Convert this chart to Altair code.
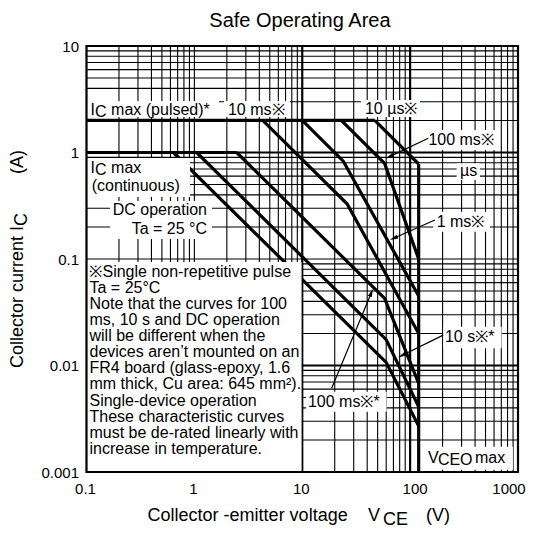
import math
import altair as alt
import pandas as pd

FONT = "Liberation Sans"

# ---------------- data (V in volts, I in amperes) ----------------
pulsed_V = [0.1, 47];        pulsed_I = [2, 2]
cont_V = [0.1, 2.47];        cont_I = [1, 1]
us10_V = [47, 120];          us10_I = [2, 0.78]
us100_V = [23, 58, 120];     us100_I = [2, 0.79, 0.1]
ms1_V = [10, 24, 120];       ms1_I = [2, 0.83, 0.045]
ms10_V = [4.3, 26, 120];     ms10_I = [2, 0.33, 0.02]
ms100s_V = [2.47, 58, 120];  ms100s_I = [1, 0.0426, 0.0068]
s10_V = [1.05, 60, 120];     s10_I = [1, 0.0175, 0.0041]
dc_V = [0.64, 60, 120];      dc_I = [1, 0.0107, 0.0027]
vceo_V = [120, 120];         vceo_I = [0.78, 0.001]

x_ticks = [0.1, 1, 10, 100, 1000]
x_tick_labels = ["0.1", "1", "10", "100", "1000"]
y_ticks = [0.001, 0.01, 0.1, 1, 10]
x_major = [10, 100]
y_major = [1, 0.01]

# annotation boxes (white): V0, V1, I0, I1
box_V0 = [0.1, 1.88, 35.0, 137.1, 269.8, 163.7, 202.7, 10.82, 137.1, 0.1, 0.165, 0.1]
box_V1 = [1.69, 7.69, 123.3, 651.6, 443.6, 549.5, 704.7, 60.5, 897, 0.91, 1.456, 9.85]
box_I0 = [2.154, 2.154, 2.154, 1.056, 0.552, 0.1805, 0.0145, 0.003682, 0.00105, 0.382, 0.1541, 0.001]
box_I1 = [3.045, 3.045, 3.11, 1.627, 0.792, 0.278, 0.02314, 0.00568, 0.001728, 0.888, 0.3504, 0.0937]

# arrows: tail (V, I) -> tip (V, I)
arr_V0 = [147.2, 169.8, 202.7, 18.73]
arr_I0 = [1.36, 0.232, 0.0193, 0.00611]
arr_V1 = [59.7, 65.0, 77.6, 45.2]
arr_I1 = [0.882, 0.151, 0.01194, 0.0523]

# labels
lab_text = ["I", "max (pulsed)*", "10 ms※", "10 µs※", "100 ms※", "µs", "1 ms※",
            "10 s※*", "100 ms※*", "V", "max", "I", "max", "(continuous)"]
lab_V = [0.1089, 0.1690, 2.048, 38.12, 147.7, 289.4, 176.1, 210.1, 11.29, 146.2, 398.6,
         0.1089, 0.1690, 0.1117]
lab_I = [2.48, 2.48, 2.48, 2.588, 1.31, 0.6632, 0.224, 0.0184, 0.004572, 0.001354, 0.001354,
         0.72, 0.72, 0.4846]
sub_text = ["C", "CEO", "C"]
sub_V = [0.1200, 180.9, 0.1200]
sub_I = [2.48, 0.001354, 0.72]
rlab_text = ["DC operation", "Ta = 25 °C"]
rlab_V = [1.309, 1.309]
rlab_I = [0.2885, 0.1913]

note_lines = [
    "※Single non-repetitive pulse",
    "Ta = 25°C",
    "Note that the curves for 100",
    "ms, 10 s and DC operation",
    "will be different when the",
    "devices aren’t mounted on an",
    "FR4 board (glass-epoxy, 1.6",
    "mm thick, Cu area: 645 mm²).",
    "Single-device operation",
    "These characteristic curves",
    "must be de-rated linearly with",
    "increase in temperature.",
]
note_V = 0.1066
note_I = [0.07600, 0.05365, 0.03789, 0.02675, 0.01888, 0.01333, 0.009412,
          0.006645, 0.004692, 0.003313, 0.002339, 0.001651]

xt_text = ["Collector -emitter voltage", "V", "(V)"]
xt_V = [0.3684, 40.64, 140.1]
xt_I = [0.000386, 0.000386, 0.000386]
xt_sub_text = ["CE"]
xt_sub_V = [55.97]
xt_sub_I = [0.000386]

yt_V = 0.02318
yt_text = "Collector current I"
yt_I = 0.009474
yt_sub_I = 0.2041
yt_unit_I = 1.0555

title_text = "Safe Operating Area"
title_V = 9.52
title_I = 17.35

# ---------------- build tables ----------------
W, H = 431.5, 426.0
XD, YD = W / 4, H / 4

curves = {
    "pulsed": (pulsed_V, pulsed_I), "cont": (cont_V, cont_I),
    "10us": (us10_V, us10_I), "100us": (us100_V, us100_I),
    "1ms": (ms1_V, ms1_I), "10ms": (ms10_V, ms10_I),
    "100ms": (ms100s_V, ms100s_I), "10s": (s10_V, s10_I),
    "dc": (dc_V, dc_I), "vceo": (vceo_V, vceo_I),
}
rows = []
for name, (vs, is_) in curves.items():
    for k, (v, i) in enumerate(zip(vs, is_)):
        rows.append({"curve": name, "o": k, "V": v, "I": i})
curve_df = pd.DataFrame(rows)

grid_x = [k * d for d in x_ticks[:-1] for k in range(1, 10)] + [x_ticks[-1]]
grid_y = [k * d for d in y_ticks[:-1] for k in range(1, 10)] + [y_ticks[-1]]
gx_minor = pd.DataFrame({"V": [v for v in grid_x if not any(abs(v - m) < 1e-9 for m in x_major)]})
gx_major = pd.DataFrame({"V": x_major})
gy_minor = pd.DataFrame({"I": [v for v in grid_y if not any(abs(v - m) < 1e-12 for m in y_major)]})
gy_major = pd.DataFrame({"I": y_major})

box_df = pd.DataFrame({"V": box_V0, "V2": box_V1, "I": box_I0, "I2": box_I1})

lg = math.log10
shaft_rows, head_rows = [], []
for n, (v0, i0, v1, i1) in enumerate(zip(arr_V0, arr_I0, arr_V1, arr_I1)):
    dx = (lg(v1) - lg(v0)) * XD
    dy = -(lg(i1) - lg(i0)) * YD
    L = math.hypot(dx, dy)
    ang = math.degrees(math.atan2(dx, -dy)) % 360
    back = 4.0
    hv = 10 ** (lg(v1) - dx / L * back / XD)
    hi = 10 ** (lg(i1) + dy / L * back / YD)
    shaft_rows += [{"a": n, "o": 0, "V": v0, "I": i0}, {"a": n, "o": 1, "V": hv, "I": hi}]
    head_rows.append({"V": hv, "I": hi, "ang": ang})
shaft_df = pd.DataFrame(shaft_rows)
head_df = pd.DataFrame(head_rows)

lab_df = pd.DataFrame({"V": lab_V, "I": lab_I, "text": lab_text})
sub_df = pd.DataFrame({"V": sub_V, "I": sub_I, "text": sub_text})
rlab_df = pd.DataFrame({"V": rlab_V, "I": rlab_I, "text": rlab_text})
note_df = pd.DataFrame({"V": [note_V] * len(note_lines), "I": note_I, "text": note_lines})
xt_df = pd.DataFrame({"V": xt_V, "I": xt_I, "text": xt_text})
xt_sub_df = pd.DataFrame({"V": xt_sub_V, "I": xt_sub_I, "text": xt_sub_text})
yt_df = pd.DataFrame({"V": [yt_V], "I": [yt_I], "text": [yt_text]})
yt_sub_df = pd.DataFrame({"V": [yt_V], "I": [yt_sub_I], "text": ["C"]})
yt_unit_df = pd.DataFrame({"V": [yt_V], "I": [yt_unit_I], "text": ["(A)"]})
title_df = pd.DataFrame({"V": [title_V], "I": [title_I], "text": [title_text]})
frame_df = pd.DataFrame({"V": [x_ticks[0]], "V2": [x_ticks[-1]], "I": [y_ticks[0]], "I2": [y_ticks[-1]]})
xl_df = pd.DataFrame({"V": x_ticks, "I": [y_ticks[0]] * len(x_ticks), "text": x_tick_labels})

# ---------------- chart ----------------
xs = alt.Scale(type="log", domain=[x_ticks[0], x_ticks[-1]], nice=False)
ys = alt.Scale(type="log", domain=[y_ticks[0], y_ticks[-1]], nice=False)
xaxis = alt.Axis(values=x_ticks, title=None, grid=False, ticks=False, domain=False, labels=False)
yaxis = alt.Axis(values=y_ticks, format="~g", title=None, grid=False, ticks=False, domain=False,
                 labelFont=FONT, labelFontSize=15, labelColor="black", labelPadding=8,
                 labelOverlap=False)

def X(f="V"):
    return alt.X(f"{f}:Q", scale=xs, axis=xaxis)

def Y(f="I"):
    return alt.Y(f"{f}:Q", scale=ys, axis=yaxis)

layers = []
layers.append(alt.Chart(gx_minor).mark_rule(color="black", strokeWidth=1.1).encode(x=X()))
layers.append(alt.Chart(gy_minor).mark_rule(color="black", strokeWidth=1.1).encode(y=Y()))
layers.append(alt.Chart(gx_major).mark_rule(color="black", strokeWidth=2.2).encode(x=X()))
layers.append(alt.Chart(gy_major).mark_rule(color="black", strokeWidth=2.2).encode(y=Y()))
layers.append(alt.Chart(curve_df).mark_line(color="black", strokeWidth=3.2, strokeJoin="miter",
                                            strokeCap="butt").encode(
    x=X(), y=Y(), detail="curve:N", order="o:Q"))
layers.append(alt.Chart(box_df).mark_rect(color="white").encode(
    x=X(), x2="V2:Q", y=Y(), y2="I2:Q"))
layers.append(alt.Chart(shaft_df).mark_line(color="black", strokeWidth=1.2).encode(
    x=X(), y=Y(), detail="a:N", order="o:Q"))
layers.append(alt.Chart(head_df).mark_point(shape="M0,-1L0.5,1L-0.5,1Z", filled=True, color="black",
                                            size=70, opacity=1, strokeWidth=0).encode(
    x=X(), y=Y(), angle=alt.Angle("ang:Q", scale=None)))

def text_layer(df, size, align="left", dy=0, angle=0, dx=0, baseline="middle"):
    kw = dict(font=FONT, fontSize=size, color="black", align=align, baseline=baseline)
    if dy:
        kw["dy"] = dy
    if dx:
        kw["dx"] = dx
    if angle:
        kw["angle"] = angle
    return alt.Chart(df).mark_text(**kw).encode(x=X(), y=Y(), text="text:N")

# x tick labels (the last two nudged as in the reference)
layers.append(text_layer(xl_df.iloc[:3], 15, align="center", dy=10, baseline="top", dx=-1))
layers.append(text_layer(xl_df.iloc[3:4], 15, align="center", dy=10, baseline="top", dx=5))
layers.append(text_layer(xl_df.iloc[4:5], 15, align="center", dy=10, baseline="top", dx=-9))

layers.append(text_layer(lab_df, 16))
layers.append(text_layer(sub_df, 16, dy=2))
layers.append(text_layer(rlab_df, 16, align="right"))
layers.append(text_layer(note_df, 16))
layers.append(text_layer(xt_df, 18))
layers.append(text_layer(xt_sub_df, 18, dy=3.5))
layers.append(text_layer(yt_df, 18, angle=270))
layers.append(text_layer(yt_sub_df, 18, dy=4, angle=270))
layers.append(text_layer(yt_unit_df, 18, align="right", angle=270))
layers.append(text_layer(title_df, 20, align="center"))
layers.append(alt.Chart(frame_df).mark_rect(fillOpacity=0, stroke="black", strokeWidth=2.2).encode(
    x=X(), x2="V2:Q", y=Y(), y2="I2:Q"))

chart = alt.layer(*layers).properties(
    width=W, height=H,
    autosize=alt.AutoSizeParams(type="none"),
    padding={"left": 78.5, "top": 38, "right": 8, "bottom": 57},
    background="white",
).configure_view(stroke=None)

chart.save("out.html", embed_options={"renderer": "svg", "actions": False})
